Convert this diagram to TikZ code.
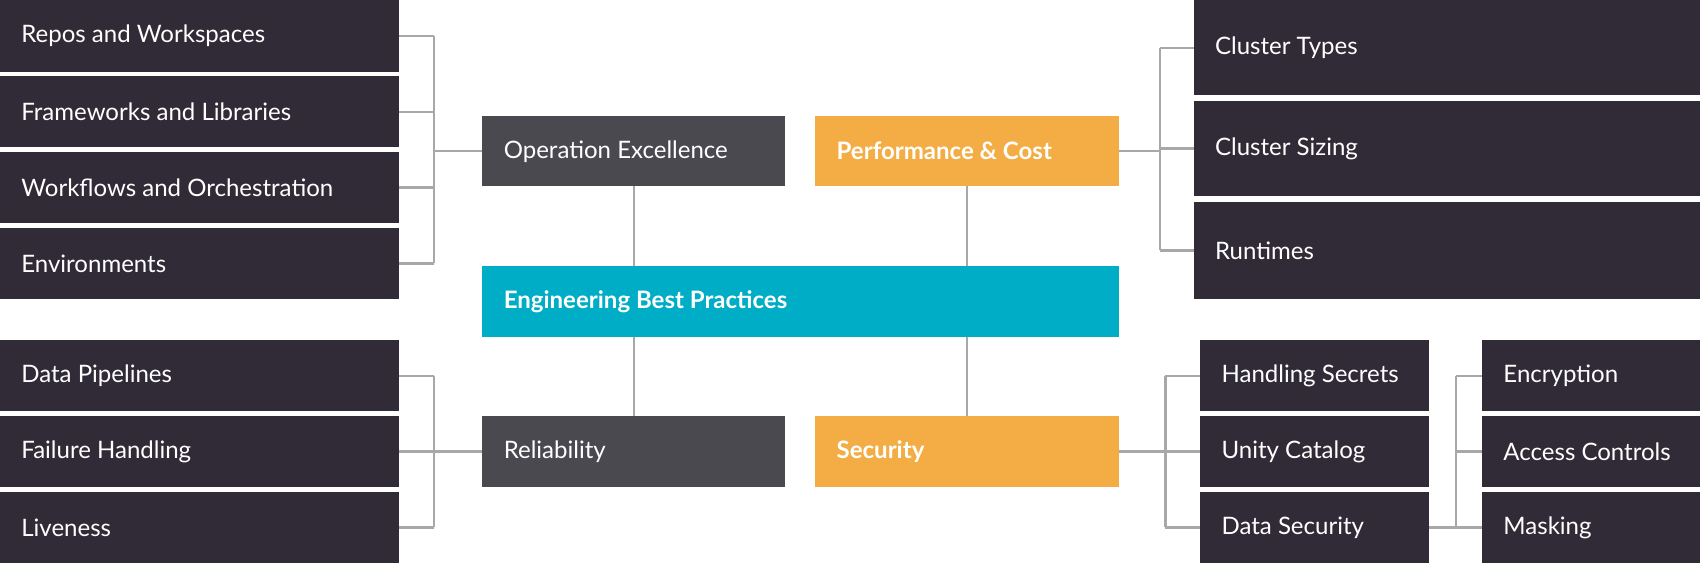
\documentclass[tikz,border=0pt]{standalone}
\usepackage{fontspec}
\setmainfont{Lato}
\definecolor{dk}{HTML}{302B36}
\definecolor{mid}{HTML}{4B4950}
\definecolor{org}{HTML}{F4AD45}
\definecolor{tl}{HTML}{00ADC6}
\definecolor{ln}{HTML}{A8A8A8}
\begin{document}
\begin{tikzpicture}[x=0.01cm,y=-0.01cm,
  bx/.style={fill=#1,text=white,inner sep=0pt,font=\fontsize{6.3}{7}\selectfont},
  cn/.style={draw=ln,line width=0.6pt}]
\useasboundingbox (0,0) rectangle (1568,520);
% helper: box by corners with text at left
\newcommand\bb[7]{\fill[#6] (#2,#3) rectangle (#4,#5);
  \node[bx=#6,anchor=west] (#1) at (#2+19,{(#3+#5)/2}) {#7};
  \coordinate (#1w) at (#2,{(#3+#5)/2}); \coordinate (#1e) at (#4,{(#3+#5)/2});}
\bb{a1}{0}{0}{368}{66}{dk}{Repos and Workspaces}
\bb{a2}{0}{70}{368}{136}{dk}{Frameworks and Libraries}
\bb{a3}{0}{140}{368}{206}{dk}{Workflows and Orchestration}
\bb{a4}{0}{210}{368}{276}{dk}{Environments}
\bb{b1}{0}{314}{368}{379}{dk}{Data Pipelines}
\bb{b2}{0}{384}{368}{449}{dk}{Failure Handling}
\bb{b3}{0}{454}{368}{519}{dk}{Liveness}
\bb{oe}{445}{107}{724}{172}{mid}{Operation Excellence}
\bb{pc}{752}{107}{1032}{172}{org}{\bfseries Performance \& Cost}
\bb{eb}{445}{245}{1032}{311}{tl}{\bfseries Engineering Best Practices}
\bb{re}{445}{384}{724}{449}{mid}{Reliability}
\bb{se}{752}{384}{1032}{449}{org}{\bfseries Security}
\bb{c1}{1101}{0}{1568}{88}{dk}{Cluster Types}
\bb{c2}{1101}{93}{1568}{181}{dk}{Cluster Sizing}
\bb{c3}{1101}{186}{1568}{276}{dk}{Runtimes}
\bb{d1}{1107}{314}{1318}{379}{dk}{Handling Secrets}
\bb{d2}{1107}{384}{1318}{449}{dk}{Unity Catalog}
\bb{d3}{1107}{454}{1318}{519}{dk}{Data Security}
\bb{e1}{1367}{314}{1568}{379}{dk}{Encryption}
\bb{e2}{1367}{384}{1568}{449}{dk}{Access Controls}
\bb{e3}{1367}{454}{1568}{519}{dk}{Masking}
% connectors
\foreach \n in {a1,a2,a3,a4} \draw[cn] (\n e) -- (\n e -| 400,0);
\draw[cn] (a1e -| 400,0) -- (a4e -| 400,0);
\draw[cn] (oew -| 400,0) -- (oew);
\foreach \n in {b1,b2,b3} \draw[cn] (\n e) -- (\n e -| 400,0);
\draw[cn] (b1e -| 400,0) -- (b3e -| 400,0);
\draw[cn] (rew -| 400,0) -- (rew);
\foreach \n in {c1,c2,c3} \draw[cn] (\n w) -- (\n w -| 1070,0);
\draw[cn] (c1w -| 1070,0) -- (c3w -| 1070,0);
\draw[cn] (pce) -- (pce -| 1070,0);
\foreach \n in {d1,d2,d3} \draw[cn] (\n w) -- (\n w -| 1075,0);
\draw[cn] (d1w -| 1075,0) -- (d3w -| 1075,0);
\draw[cn] (see) -- (see -| 1075,0);
\foreach \n in {e1,e2,e3} \draw[cn] (\n w) -- (\n w -| 1343,0);
\draw[cn] (e1w -| 1343,0) -- (e3w -| 1343,0);
\draw[cn] (d3e) -- (d3e -| 1343,0);
\draw[cn] (585,172) -- (585,245);
\draw[cn] (892,172) -- (892,245);
\draw[cn] (585,311) -- (585,384);
\draw[cn] (892,311) -- (892,384);
\end{tikzpicture}
\end{document}
